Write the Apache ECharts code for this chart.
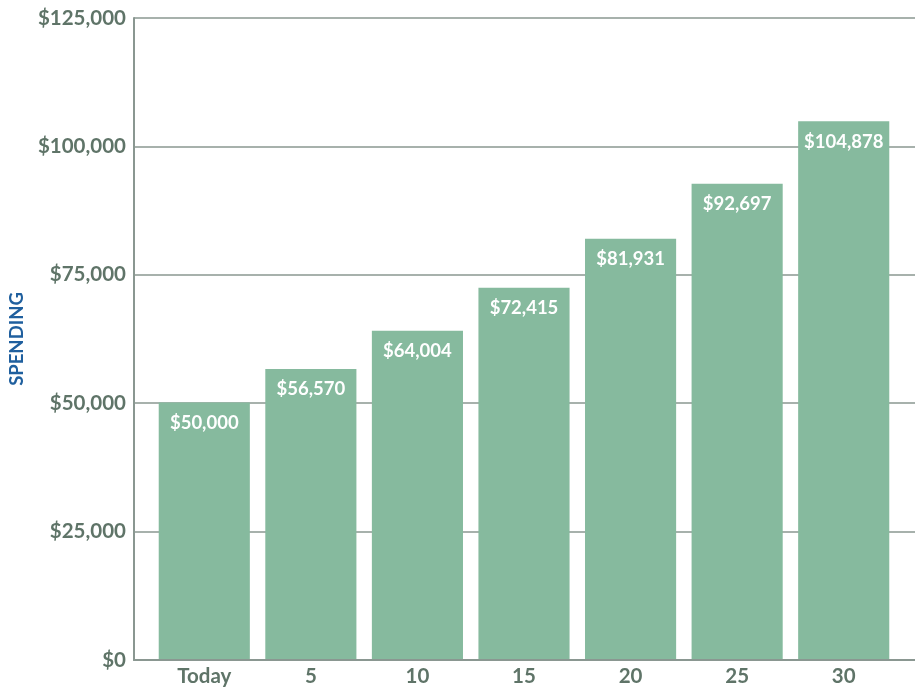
<!DOCTYPE html>
<html><head><meta charset="utf-8">
<script src="https://cdn.jsdelivr.net/npm/echarts@6/dist/echarts.min.js"></script>
<style>html,body{margin:0;padding:0;background:#fff}#c{width:915px;height:687px}</style>
</head><body><div id="c"></div>
<script>
const categories = ['Today', '5', '10', '15', '20', '25', '30'];
const spending = [50000, 56570, 64004, 72415, 81931, 92697, 104878];
const yTicks = [0, 25000, 50000, 75000, 100000, 125000];

const fmt = v => '$' + v.toLocaleString('en-US');
const font = 'Lato, "Open Sans", sans-serif';
const grey = '#5f7468';
const lineCol = '#8a9791';

const chart = echarts.init(document.getElementById('c'));
chart.setOption({
  animation: false,
  grid: [
    {left: 130, right: 0, top: 18, bottom: 27},
    {left: 151, right: 18, top: 18, bottom: 27}
  ],
  xAxis: [
    {gridIndex: 0, type: 'value', min: 0, max: 1, show: true,
     axisLine: {show: true, onZero: false, lineStyle: {color: lineCol, width: 2}},
     axisTick: {show: false}, axisLabel: {show: false}, splitLine: {show: false}},
    {gridIndex: 1, type: 'category', data: categories,
     axisLine: {show: false}, axisTick: {show: false},
     axisLabel: {color: grey, fontFamily: font, fontWeight: 'bold', fontSize: 20.5, margin: 7}}
  ],
  yAxis: [
    {gridIndex: 0, type: 'value', min: yTicks[0], max: yTicks[yTicks.length - 1], interval: 25000,
     name: 'SPENDING', nameLocation: 'middle', nameGap: 100,
     nameTextStyle: {color: '#1f5f9e', fontFamily: font, fontWeight: 'bold', fontSize: 18.5},
     axisLine: {show: true, lineStyle: {color: lineCol, width: 2}},
     axisTick: {show: false},
     axisLabel: {formatter: fmt, color: grey, fontFamily: font, fontWeight: 'bold', fontSize: 20.5, margin: 8},
     splitLine: {show: true, lineStyle: {color: lineCol, width: 1.5}}},
    {gridIndex: 1, type: 'value', min: yTicks[0], max: yTicks[yTicks.length - 1], show: false,
     splitLine: {show: false}}
  ],
  series: [{
    type: 'bar', xAxisIndex: 1, yAxisIndex: 1, data: spending,
    barCategoryGap: '14.5%',
    itemStyle: {color: '#86ba9e'},
    label: {show: true, position: 'insideTop', distance: 11, formatter: p => fmt(p.value),
            color: '#ffffff', fontFamily: font, fontWeight: 'bold', fontSize: 18.5}
  }]
});
</script></body></html>
